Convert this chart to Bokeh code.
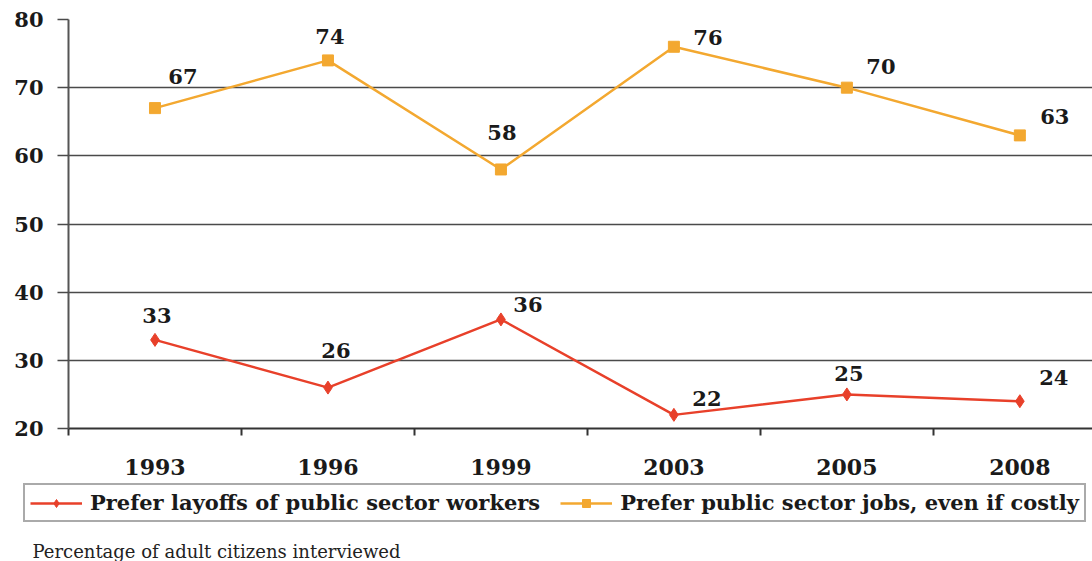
from bokeh.plotting import figure
from bokeh.layouts import column
from bokeh.models import Range1d, FixedTicker, Legend, LegendItem, Label, ColumnDataSource
from bokeh.embed import file_html
from bokeh.resources import INLINE
from bokeh.core.properties import value

years = ["1993", "1996", "1999", "2003", "2005", "2008"]
layoffs = [33, 26, 36, 22, 25, 24]
jobs = [67, 74, 58, 76, 70, 63]
y_ticks = [20, 30, 40, 50, 60, 70, 80]
series_names = ["Prefer layoffs of public sector workers",
                "Prefer public sector jobs, even if costly"]
footnote = "Percentage of adult citizens interviewed"

# data-label offsets in pixels (style)
jobs_dx = [28, 2, 1, 34, 34, 35]
jobs_dy = [32, 24, 37, 9, 21, 19]
lay_dx = [2, 8, 27, 33, 2, 34]
lay_dy = [24, 37, 15, 16, 21, 24]

RED = "#E8402A"
ORANGE = "#F3A830"
GRID = "#4a4a4a"
FONT = "DejaVu Serif"

xs = [i + 0.5 for i in range(len(years))]
bounds = list(range(len(years)))

p = figure(width=1092, height=480, output_backend="svg", toolbar_location=None,
           x_range=Range1d(0, 5.92), y_range=Range1d(20, 80),
           min_border_left=68, min_border_right=0, min_border_top=19,
           min_border_bottom=52)
p.outline_line_color = None
p.background_fill_color = "white"
p.border_fill_color = "white"

# grid
p.xgrid.visible = False
p.ygrid.ticker = FixedTicker(ticks=y_ticks)
p.ygrid.grid_line_color = GRID
p.ygrid.grid_line_width = 1.6

# y axis
p.yaxis.ticker = FixedTicker(ticks=y_ticks)
p.yaxis.axis_line_color = "#555555"
p.yaxis.axis_line_width = 2
p.yaxis.major_tick_out = 11
p.yaxis.major_tick_in = 0
p.yaxis.major_tick_line_color = GRID
p.yaxis.major_tick_line_width = 1.6
p.yaxis.minor_tick_line_color = None
p.yaxis.major_label_standoff = 14
p.yaxis.major_label_text_font = FONT
p.yaxis.major_label_text_font_style = "bold"
p.yaxis.major_label_text_font_size = "21px"
p.yaxis.major_label_text_color = "#1a1a1a"

# x axis
p.xaxis.ticker = FixedTicker(ticks=xs, minor_ticks=bounds)
p.xaxis.major_label_overrides = {x: y for x, y in zip(xs, years)}
p.xaxis.axis_line_color = "#333333"
p.xaxis.axis_line_width = 2
p.xaxis.major_tick_out = 0
p.xaxis.major_tick_in = 0
p.xaxis.major_tick_line_color = None
p.xaxis.minor_tick_out = 7
p.xaxis.minor_tick_in = 0
p.xaxis.minor_tick_line_color = "#333333"
p.xaxis.minor_tick_line_width = 2
p.xaxis.major_label_standoff = 23
p.xaxis.major_label_text_font = FONT
p.xaxis.major_label_text_font_style = "bold"
p.xaxis.major_label_text_font_size = "22px"
p.xaxis.major_label_text_color = "#1a1a1a"

# series
p.line(xs, layoffs, line_color=RED, line_width=2.5)
p.scatter(xs, layoffs, marker="diamond", size=13, color=RED)
p.line(xs, jobs, line_color=ORANGE, line_width=2.5)
p.scatter(xs, jobs, marker="square", size=11, color=ORANGE)

src_j = ColumnDataSource(dict(x=xs, y=jobs, t=[str(v) for v in jobs],
                              dx=jobs_dx, dy=[-d for d in jobs_dy]))
src_l = ColumnDataSource(dict(x=xs, y=layoffs, t=[str(v) for v in layoffs],
                              dx=lay_dx, dy=[-d for d in lay_dy]))
for src in (src_j, src_l):
    p.text(x="x", y="y", text="t", x_offset="dx", y_offset="dy", source=src,
           text_font=value(FONT), text_font_style="bold", text_font_size="21px",
           text_color="#1a1a1a", text_align="center", text_baseline="middle")

# ---- legend + footnote strip (series re-plotted out of view, for legend keys) ----
p2 = figure(width=1092, height=81, output_backend="svg", toolbar_location=None,
            x_range=Range1d(0, 1), y_range=Range1d(0, 1),
            x_axis_location=None, y_axis_location=None,
            min_border_left=0, min_border_right=0, min_border_top=0,
            min_border_bottom=0)
for fig in (p, p2):
    try:
        fig.frame_align = False
    except Exception:
        pass
p2.outline_line_color = None
p2.grid.visible = False
p2.background_fill_color = "white"
p2.border_fill_color = "white"

k_l = p2.line(xs, layoffs, line_color=RED, line_width=2.5)
k_lm = p2.scatter(xs, layoffs, marker="diamond", size=11, color=RED)
k_j = p2.line(xs, jobs, line_color=ORANGE, line_width=2.5)
k_jm = p2.scatter(xs, jobs, marker="square", size=9, color=ORANGE)

legend = Legend(items=[
    LegendItem(label=series_names[0], renderers=[k_l, k_lm]),
    LegendItem(label=series_names[1], renderers=[k_j, k_jm]),
], orientation="horizontal", location=(23, 39))
legend.label_text_font = FONT
legend.label_text_font_style = "bold"
legend.label_text_font_size = "21px"
legend.label_text_color = "#1a1a1a"
legend.border_line_color = "#555555"
legend.border_line_width = 2
legend.background_fill_color = "white"
legend.background_fill_alpha = 1
legend.padding = 5
legend.margin = 0
legend.spacing = 20
legend.glyph_width = 52
legend.label_standoff = 8
p2.add_layout(legend, "center")

footer = Label(x=32, y=10, x_units="screen", y_units="screen", text=footnote,
               text_font=FONT, text_font_size="18px", text_color="#222222",
               text_baseline="alphabetic")
p2.add_layout(footer)

layout = column(p, p2, spacing=0)
open("out.html", "w").write(file_html(layout, INLINE))
